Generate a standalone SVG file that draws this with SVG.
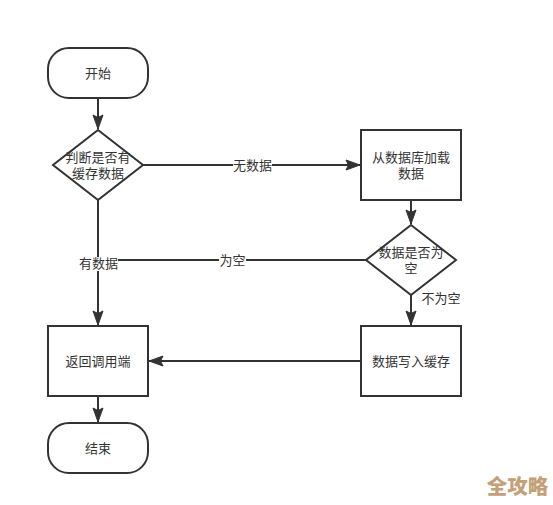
<svg xmlns="http://www.w3.org/2000/svg" width="553" height="505" viewBox="0 0 553 505">
<style>
.s{fill:#fff;stroke:#333;stroke-width:2}
.c{fill:none;stroke:#333;stroke-width:2}
text{font-family:"Noto Sans CJK SC","Liberation Sans",sans-serif;font-size:13px;fill:#333;text-anchor:middle}
.bg{fill:#fff}
</style>
<defs>
<marker id="a" markerUnits="userSpaceOnUse" markerWidth="16" markerHeight="14" refX="15" refY="7" orient="auto"><path d="M1 2L15 7L1 12L3.500 7Z" fill="#333" stroke="#333"/></marker>
</defs>
<rect width="553" height="505" fill="#fff"/>
<g id="connectors">
<path class="c" d="M98 98V129" marker-end="url(#a)"/>
<path class="c" d="M143 165H360" marker-end="url(#a)"/>
<path class="c" d="M411 200V224" marker-end="url(#a)"/>
<path class="c" d="M411 295V325" marker-end="url(#a)"/>
<path class="c" d="M361 361H149" marker-end="url(#a)"/>
<path class="c" d="M366 260H98"/>
<path class="c" d="M98 200V325" marker-end="url(#a)"/>
<path class="c" d="M98 396V422" marker-end="url(#a)"/>
<rect class="bg" x="233" y="158" width="39" height="14"/>
<text x="252.500" y="170">无数据</text>
<rect class="bg" x="219" y="254" width="27" height="13"/>
<text x="232.500" y="265">为空</text>
<rect class="bg" x="79" y="257" width="39" height="14"/>
<text x="98.500" y="268">有数据</text>
<text x="441" y="303">不为空</text>
</g>
<g id="start"><rect class="s" x="48" y="48" width="100" height="50" rx="21"/><text x="98" y="78">开始</text></g>
<g id="check-cache"><path class="s" d="M98 130L143 165L98 200L53 165Z"/><text y="162"><tspan x="98">判断是否有</tspan><tspan x="98" dy="16">缓存数据</tspan></text></g>
<g id="load-db"><rect class="s" x="361" y="130" width="100" height="70"/><text y="162"><tspan x="411">从数据库加载</tspan><tspan x="411" dy="16">数据</tspan></text></g>
<g id="check-empty"><path class="s" d="M411 225L456 260L411 295L366 260Z"/><text y="257"><tspan x="411">数据是否为</tspan><tspan x="411" dy="16">空</tspan></text></g>
<g id="write-cache"><rect class="s" x="361" y="326" width="100" height="70"/><text x="411" y="366">数据写入缓存</text></g>
<g id="return"><rect class="s" x="48" y="326" width="100" height="70"/><text x="98" y="366">返回调用端</text></g>
<g id="end"><rect class="s" x="48" y="423" width="100" height="50" rx="21"/><text x="98" y="453">结束</text></g>
<text x="517.500" y="494" style="font-size:20.500px;font-weight:900;fill:#c4a078">全攻略</text>
</svg>
